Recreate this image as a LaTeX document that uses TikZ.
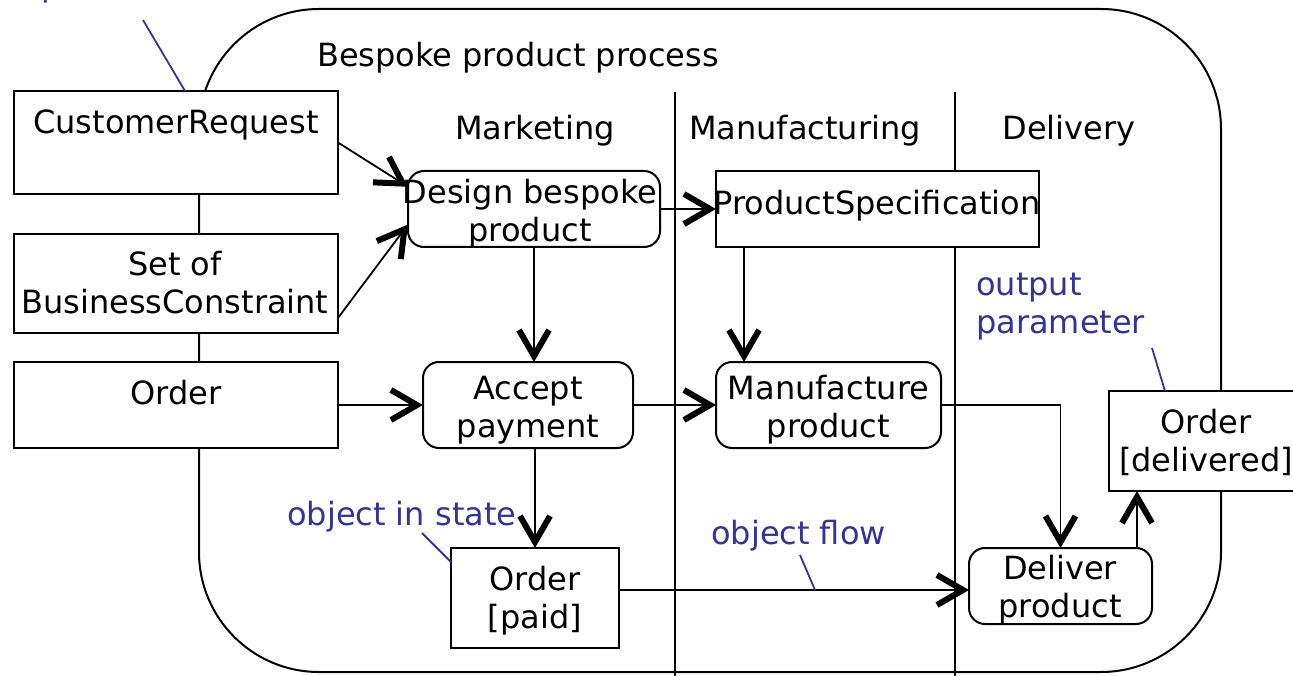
\documentclass[tikz,border=0pt]{standalone}
\usepackage{fontspec}
\setmainfont{DejaVu Sans}
\usetikzlibrary{arrows.meta,calc}
\definecolor{note}{RGB}{51,51,153}

\begin{document}
\begin{tikzpicture}[x=1pt,y=-1pt,
  every node/.style={font=\fontsize{32}{38}\selectfont},
  obj/.style={draw, line width=2pt, fill=white, inner sep=0pt, outer sep=0pt},
  act/.style={obj, rounded corners=16pt},
  txt/.style={anchor=base, align=center, inner sep=0pt},
  lbl/.style={anchor=base west, align=left, inner sep=0pt, text=note},
  flow/.style={line width=1.8pt, -{Straight Barb[length=26pt,width=30pt,line width=6pt 0]}},
  lead/.style={draw=note, line width=1.8pt},
  lane/.style={line width=1.8pt},
]
\useasboundingbox (0,0) rectangle (1293,676);

% activity frame and swimlane dividers
\draw[line width=2pt, rounded corners=120pt] (199,9) rectangle (1221,672);
\node[txt, anchor=base west] (title) at (317,66.5) {Bespoke product process};
\draw[lane] (675,92) -- (675,680);
\draw[lane] (955,92) -- (955,680);
\node[txt] (mkt) at (535,139.5) {Marketing};
\node[txt] (man) at (805,139.5) {Manufacturing};
\node[txt] (del) at (1069,139.5) {Delivery};

% input objects (the base anchor of a two-line text is its last line)
\node[obj, anchor=north west, minimum width=324pt, minimum height=103pt] (cr) at (14,91) {};
\node[txt] (crt) at (176,133.5) {CustomerRequest};
\node[obj, anchor=north west, minimum width=324pt, minimum height=99pt] (sbc) at (14,234) {};
\node[txt] (sbct) at (175,313.5) {Set of\\BusinessConstraint};
\node[obj, anchor=north west, minimum width=324pt, minimum height=86pt] (ord) at (14,362) {};
\node[txt] (ordt) at (176,404.5) {Order};

% actions
\node[act, anchor=north west, minimum width=252pt, minimum height=76pt] (db) at (408,171) {};
\node[txt] (dbt) at (530,241.5) {Design bespoke\\product};
\node[act, anchor=north west, minimum width=210pt, minimum height=86pt] (acc) at (423,362) {};
\node[txt] (acct) at (528,437.5) {Accept\\payment};
\node[act, anchor=north west, minimum width=225pt, minimum height=86pt] (mp) at (716,362) {};
\node[txt] (mpt) at (828.5,437.5) {Manufacture\\product};
\node[act, anchor=north west, minimum width=183pt, minimum height=76pt] (dp) at (969,548) {};
\node[txt] (dpt) at (1060,617.5) {Deliver\\product};

% objects inside the activity
\node[obj, anchor=north west, minimum width=323pt, minimum height=76pt] (ps) at (716,171) {};
\node[txt] (pst) at (877,214.5) {ProductSpecification};
\node[obj, anchor=north west, minimum width=168pt, minimum height=100pt] (op) at (451,548) {};
\node[txt] (opt) at (535,628.5) {Order\\{[paid]}};
\node[obj, anchor=north west, minimum width=194pt, minimum height=100pt] (od) at (1109,391) {};
\node[txt] (odt) at (1206,471.5) {Order\\{[delivered]}};

% object flows
\draw[flow] (cr.east) -- (db.170);
\draw[flow] (sbc.348) -- (db.187);
\draw[flow] (ord.east) -- (ord.east -| acc.west);
\draw[flow] (db.east) -- (db.east -| ps.west);
\draw[flow] (db.south) -- (db.south |- acc.north);
\coordinate (psout) at ($(ps.south west)+(28,0)$);
\draw[flow] (psout) -- (psout |- mp.north);
\draw[flow] (acc.east) -- (mp.west);
\draw[flow] (op.north |- acc.south) -- (op.north);
\draw[flow] (mp.east) -| (dp.north);
\coordinate (dpin) at ($(dp.west)+(0,4)$);
\draw[flow] (op.east |- dpin) -- (dpin);
\coordinate (dpout) at ($(dp.north east)+(-15,0)$);
\draw[flow] (dpout) -- (dpout |- od.south);

% annotations
\node[lbl] (inp) at (41,-3) {input\\parameter};
\coordinate (inpend) at (143,20);
\draw[lead] (inpend) -- ($(cr.north west)+(171,0)$);
\node[lbl] (outp) at (976,333.5) {output\\parameter};
\coordinate (outpend) at (1152,348);
\draw[lead] (outpend) -- ($(od.north west)+(56,0)$);
\node[lbl] (ois) at (287,525.5) {object in state};
\coordinate (oisend) at (422,533);
\draw[lead] (oisend) -- ($(op.north west)+(0,14)$);
\node[lbl] (of) at (711,544.5) {object flow};
\coordinate (ofend) at (800,555);
\coordinate (ofhit) at ($(op.east |- dpin)+(196,0)$);
\draw[lead] (ofend) -- (ofhit);
\end{tikzpicture}
\end{document}
